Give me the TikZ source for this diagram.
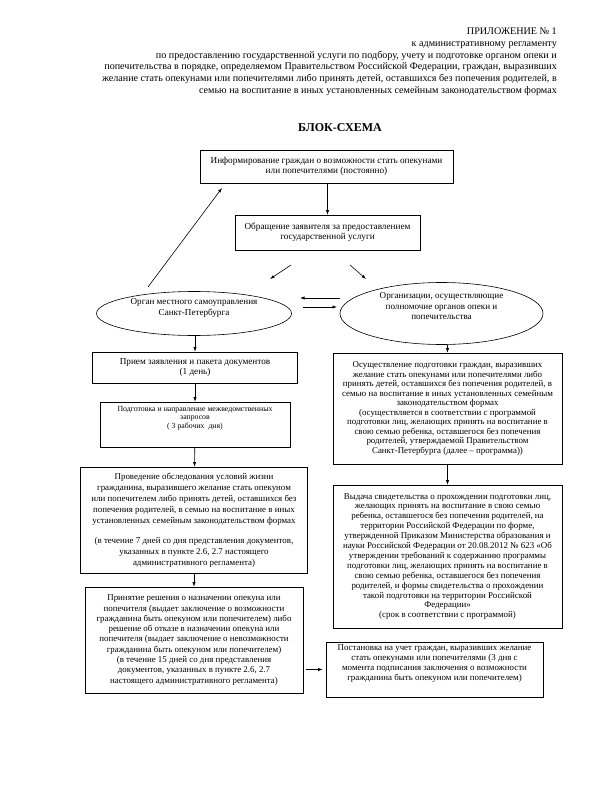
\documentclass[tikz,border=0pt]{standalone}
\usepackage{fontspec}
\setmainfont{Liberation Serif}
\usetikzlibrary{arrows.meta,shapes.geometric}

\tikzset{
    blok/.style={draw, rectangle, line width=0.6pt, align=center, inner sep=1pt,
        font=\fontsize{8.9}{9.9}\selectfont},
    oval/.style={draw, ellipse, line width=0.6pt, align=center, inner sep=0pt,
        font=\fontsize{9.1}{10.8}\selectfont},
    strelka/.style={-{Latex[length=4.5pt,width=3.2pt]}, line width=0.6pt}
}

\begin{document}
\begin{tikzpicture}[x=1pt, y=-1pt]
        \useasboundingbox (0,0) rectangle (600,791);

        % header
        \node[anchor=north east, align=right, inner sep=0pt, font=\fontsize{10.1}{11.7}\selectfont] (prilozh) at (557,28)
            {ПРИЛОЖЕНИЕ № 1\\
             к административному регламенту\\
             по предоставлению государственной услуги по подбору, учету и подготовке органом опеки и\\
             попечительства в порядке, определяемом Правительством Российской Федерации, граждан, выразивших\\
             желание стать опекунами или попечителями либо принять детей, оставшихся без попечения родителей, в\\
             семью на воспитание в иных установленных семейным законодательством формах};
        \node[font=\bfseries\fontsize{12}{14}\selectfont] (zagl) at (340,128) {БЛОК-СХЕМА};

        % top
        \node[blok, minimum width=253pt, minimum height=33pt, font=\fontsize{9.2}{10.2}\selectfont] (inform) at (326.5,166.5)
            {Информирование граждан о возможности стать опекунами\\или попечителями (постоянно)};
        \node[blok, minimum width=185pt, minimum height=35pt, font=\fontsize{9.2}{10.2}\selectfont] (obrash) at (327.5,232.5)
            {Обращение заявителя за предоставлением\\государственной услуги};
        \node[oval, minimum width=195pt, minimum height=44pt] (organ) at (194,313.5)
            {Орган местного самоуправления\\Санкт-Петербурга\\[3pt]};
        \node[oval, minimum width=203pt, minimum height=62pt] (organiz) at (441.5,313.5)
            {Организации, осуществляющие\\полномочие органов опеки и\\попечительства\\[4pt]};

        % left column
        \node[blok, minimum width=205pt, minimum height=31pt, font=\fontsize{9.2}{10.2}\selectfont] (priem) at (195,367.5)
            {Прием заявления и пакета документов\\(1 день)};
        \node[blok, minimum width=190pt, minimum height=45pt, font=\fontsize{7.8}{8.3}\selectfont] (zapros) at (195,424.5)
            {Подготовка и направление межведомственных\\запросов\\( 3 рабочих~~дня)\\[6pt]};
        \node[blok, minimum width=227pt, minimum height=106pt, font=\fontsize{8.9}{11}\selectfont] (obsled) at (194,520)
            {Проведение обследования условий жизни\\
             гражданина, выразившего желание стать опекуном\\
             или попечителем либо принять детей, оставшихся без\\
             попечения родителей, в семью на воспитание в иных\\
             установленных семейным законодательством формах\\[9pt]
             (в течение 7 дней со дня представления документов,\\
             указанных в пункте 2.6, 2.7 настоящего\\
             административного регламента)};
        \node[blok, minimum width=218pt, minimum height=106pt, font=\fontsize{8.9}{10.3}\selectfont] (reshen) at (194,640)
            {Принятие решения о назначении опекуна или\\
             попечителя (выдает заключение о возможности\\
             гражданина быть опекуном или попечителем) либо\\
             решение об отказе в назначении опекуна или\\
             попечителя (выдает заключение о невозможности\\
             гражданина быть опекуном или попечителем)\\
             (в течение 15 дней со дня представления\\
             документов, указанных в пункте 2.6, 2.7\\
             настоящего административного регламента)};

        % right column
        \node[blok, minimum width=229pt, minimum height=111pt, font=\fontsize{8.9}{9.5}\selectfont] (podgot) at (447.5,408.5)
            {Осуществление подготовки граждан, выразивших\\
             желание стать опекунами или попечителями либо\\
             принять детей, оставшихся без попечения родителей, в\\
             семью на воспитание в иных установленных семейным\\
             законодательством формах\\
             (осуществляется в соответствии с программой\\
             подготовки лиц, желающих принять на воспитание в\\
             свою семью ребенка, оставшегося без попечения\\
             родителей, утверждаемой Правительством\\
             Санкт-Петербурга (далее – программа))};
        \node[blok, minimum width=229pt, minimum height=143pt] (svidet) at (447.5,556.5)
            {Выдача свидетельства о прохождении подготовки лиц,\\
             желающих принять на воспитание в свою семью\\
             ребенка, оставшегося без попечения родителей, на\\
             территории Российской Федерации по форме,\\
             утвержденной Приказом Министерства образования и\\
             науки Российской Федерации от 20.08.2012 № 623 «Об\\
             утверждении требований к содержанию программы\\
             подготовки лиц, желающих принять на воспитание в\\
             свою семью ребенка, оставшегося без попечения\\
             родителей, и формы свидетельства о прохождении\\
             такой подготовки на территории Российской\\
             Федерации»\\
             (срок в соответствии с программой)};
        \node[blok, minimum width=217pt, minimum height=55pt] (uchet) at (434.5,669.5)
            {Постановка на учет граждан, выразивших желание\\
             стать опекунами или попечителями (3 дня с\\
             момента подписания заключения о возможности\\
             гражданина быть опекуном или попечителем)\\[4pt]};

        % free arrow ends
        \coordinate (vl1) at (291,265);
        \coordinate (vl2) at (270,279);
        \coordinate (vp1) at (350,265);
        \coordinate (vp2) at (366,279);
        \coordinate (gv1) at (340,298);
        \coordinate (gv2) at (300,298);
        \coordinate (gn1) at (303,307);
        \coordinate (gn2) at (337,307);
        \coordinate (dg1) at (148,287);
        \coordinate (dg2) at (222,188);

        \draw[strelka] (inform.south -| obrash.north) -- (obrash.north);
        \draw[strelka] (vl1) -- (vl2);
        \draw[strelka] (vp1) -- (vp2);
        \draw[strelka] (gv1) -- (gv2);
        \draw[strelka] (gn1) -- (gn2);
        \draw[strelka] (dg1) -- (dg2);
        \draw[strelka] (organ.south -| priem.north) -- (priem.north);
        \draw[strelka] (priem) -- (zapros);
        \draw[strelka] (zapros) -- (obsled);
        \draw[strelka] (obsled) -- (reshen);
        \draw[strelka] (organiz.south -| podgot.north) -- (podgot.north);
        \draw[strelka] (podgot) -- (svidet);
        \draw[strelka, shorten <=3pt, shorten >=3pt] (uchet.west -| reshen.east) -- (uchet.west);
    \end{tikzpicture}
\end{document}
